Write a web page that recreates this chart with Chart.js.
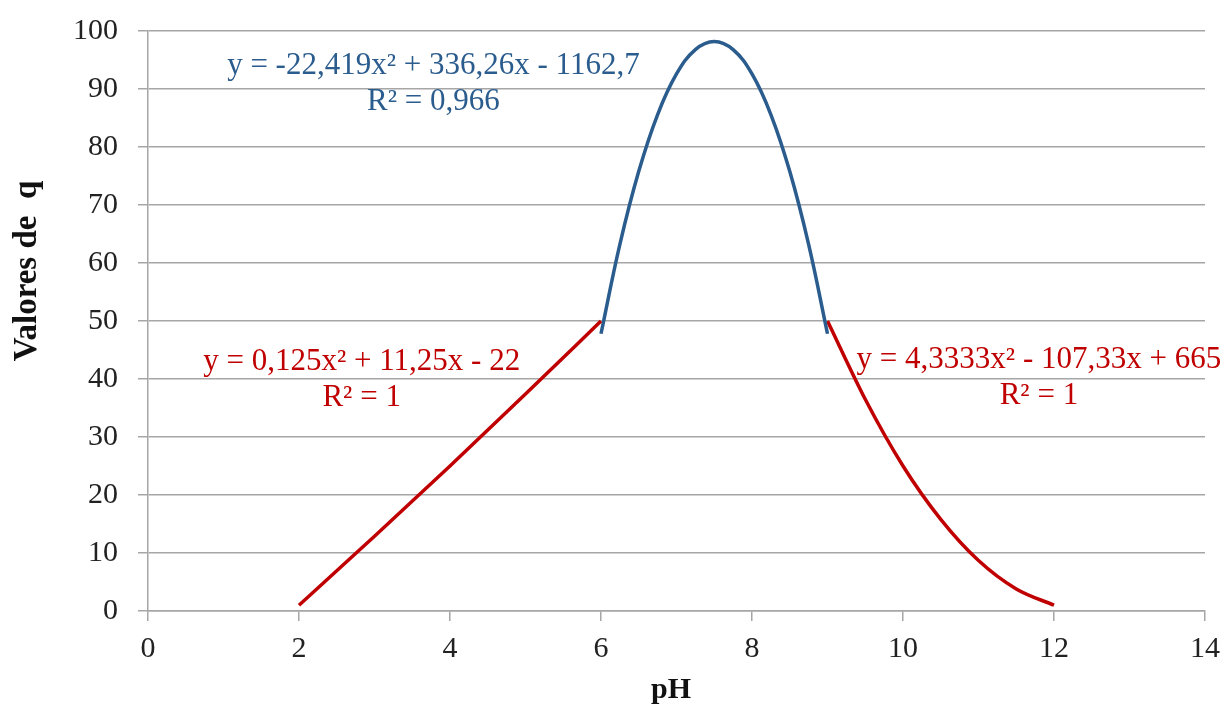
<!DOCTYPE html>
<html>
<head>
  <title>Valores de q vs pH</title>
  <style>
    body { margin: 0; background: #fff; }
    #wrap { width: 1230px; height: 709px; }
  </style>
  <script src="https://cdn.jsdelivr.net/npm/chart.js"></script>
</head>
<body>
  <div id="wrap"><canvas id="chart" width="1230" height="709"></canvas></div>
  <script>
    // values
    const leftPH = [2, 3, 4, 5, 6];
    const leftQ = [1, 12.9, 25, 37.4, 50];

    const midPH = [6, 6.25, 6.5, 6.75, 7, 7.25, 7.5, 7.75, 8, 8.25, 8.5, 8.75, 9];
    const midQ = [47.8, 63.2, 75.8, 85.6, 92.6, 96.8, 98.2, 96.8, 92.6, 85.6, 75.8, 63.2, 47.8];

    const rightPH = [9, 9.5, 10, 10.5, 11, 11.5, 12];
    const rightQ = [50, 36.5, 25, 15.8, 8.7, 3.8, 1];

    const xTicks = [0, 2, 4, 6, 8, 10, 12, 14];
    const yTicks = [0, 10, 20, 30, 40, 50, 60, 70, 80, 90, 100];

    // trendline labels: [text lines, pH, q, color]
    const labels = [
      [["y = -22,419x\u00b2 + 336,26x - 1162,7", "R\u00b2 = 0,966"], 3.78, 94, "#2b5c8e"],
      [["y = 0,125x\u00b2 + 11,25x - 22", "R\u00b2 = 1"], 2.83, 43, "#c00000"],
      [["y = 4,3333x\u00b2 - 107,33x + 665", "R\u00b2 = 1"], 11.8, 43.3, "#c00000"]
    ];

    const RED = "#c00000", BLUE = "#2b5c8e", GRID = "#a6a6a6";
    const serif = "'Liberation Serif', 'Times New Roman', serif";

    const toPts = (xs, ys) => xs.map((x, i) => ({x: x, y: ys[i]}));

    // trendline equations and the two axis titles
    const textLayer = {
      id: 'textLayer',
      afterDatasetsDraw(chart) {
        const ctx = chart.ctx;
        const xs = chart.scales.x, ys = chart.scales.y;
        ctx.save();
        ctx.font = "31px " + serif;
        ctx.textAlign = "center";
        ctx.textBaseline = "middle";
        labels.forEach(l => {
          const px = xs.getPixelForValue(l[1]);
          const py = ys.getPixelForValue(l[2]);
          ctx.fillStyle = l[3];
          l[0].forEach((t, i) => ctx.fillText(t, px, py + i * 36));
        });

        ctx.fillStyle = "#111";
        ctx.textBaseline = "alphabetic";
        ctx.font = "bold 30px " + serif;
        ctx.fillText("pH", 671, 698);

        ctx.translate(36, 271);
        ctx.rotate(-Math.PI / 2);
        ctx.font = "bold 33px " + serif;
        ctx.fillText("Valores de  q", 0, 0);
        ctx.restore();
      }
    };

    new Chart(document.getElementById('chart'), {
      type: 'line',
      data: {
        datasets: [
          { data: toPts(leftPH, leftQ), borderColor: RED, borderWidth: 3.5, pointRadius: 0, cubicInterpolationMode: 'monotone' },
          { data: toPts(midPH, midQ), borderColor: BLUE, borderWidth: 3.5, pointRadius: 0, tension: 0.4 },
          { data: toPts(rightPH, rightQ), borderColor: RED, borderWidth: 3.5, pointRadius: 0, cubicInterpolationMode: 'monotone' }
        ]
      },
      options: {
        responsive: false,
        animation: false,
        layout: { padding: { top: 31, right: 25, left: 0, bottom: 0 } },
        plugins: { legend: { display: false }, tooltip: { enabled: false } },
        scales: {
          x: {
            type: 'linear',
            min: 0, max: 14,
            afterBuildTicks: s => { s.ticks = xTicks.map(v => ({value: v})); },
            afterFit: s => { s.height = 98; s.paddingRight = 0; },
            grid: { drawOnChartArea: false, drawTicks: true, tickLength: 10, color: GRID, lineWidth: 1.5 },
            border: { color: GRID, width: 1.5 },
            ticks: { color: "#222", font: { family: serif, size: 30 }, padding: 10 }
          },
          y: {
            min: 0, max: 100,
            afterBuildTicks: s => { s.ticks = yTicks.map(v => ({value: v})); },
            afterFit: s => { s.width = 148; s.paddingTop = 0; s.paddingBottom = 0; },
            grid: { color: GRID, lineWidth: 1.5, tickLength: 10 },
            border: { color: GRID, width: 1.5 },
            ticks: { color: "#222", font: { family: serif, size: 30 }, padding: 20 }
          }
        }
      },
      plugins: [textLayer]
    });
  </script>
</body>
</html>
